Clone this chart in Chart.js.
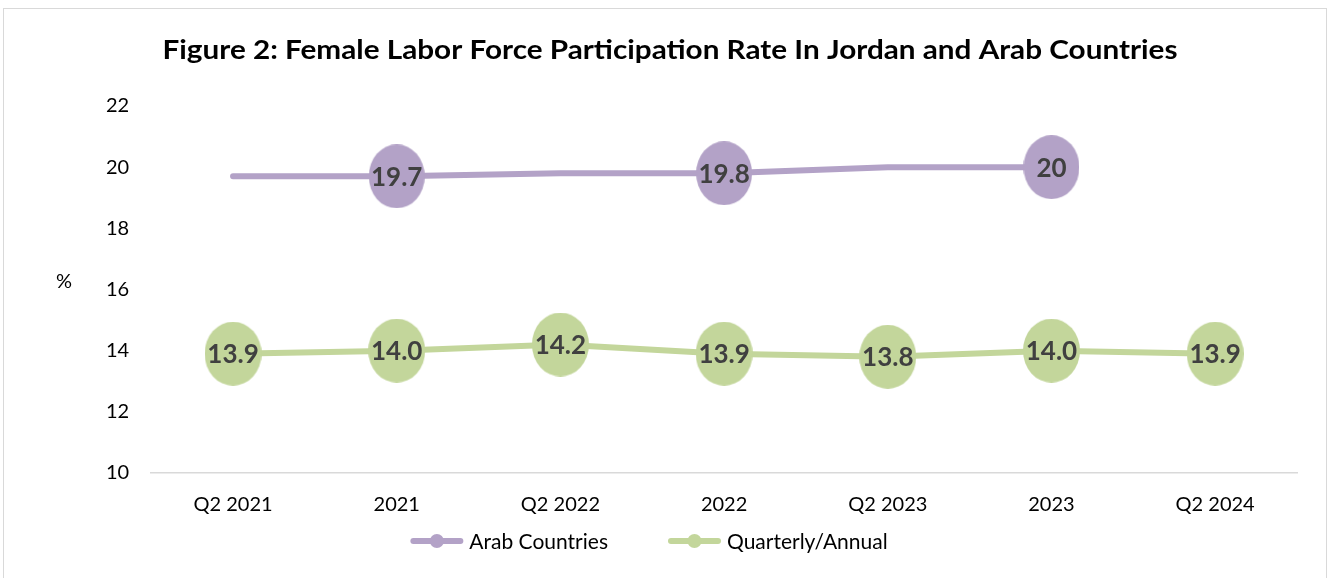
<!DOCTYPE html>
<html>
<head>
<meta charset="utf-8">
<script src="https://cdn.jsdelivr.net/npm/chart.js@4"></script>
<style>
  html, body { margin: 0; padding: 0; background: #fff; overflow: hidden; }
  #frame { position: absolute; left: 3px; top: 8px; width: 1322px; height: 640px; border: 1px solid #d9d9d9; }
  #wrap { position: absolute; left: 0; top: 0; width: 1334px; height: 578px; }
</style>
</head>
<body>
<div id="frame"></div>
<div id="wrap"><canvas id="chart" width="1334" height="578"></canvas></div>
<script>
const titleText = 'Figure 2: Female Labor Force Participation Rate In Jordan and Arab Countries';
const categories = ['Q2 2021', '2021', 'Q2 2022', '2022', 'Q2 2023', '2023', 'Q2 2024'];
const arabValues = [19.7, 19.7, 19.8, 19.8, 20, 20, null];
const arabMarked = [false, true, false, true, false, true, false];
const jordanValues = [13.9, 14.0, 14.2, 13.9, 13.8, 14.0, 13.9];
const yTicks = [10, 12, 14, 16, 18, 20, 22];

const PURPLE = '#b3a2c7';
const GREEN = '#c3d69b';

function ellipse(color, w, h) {
    const c = document.createElement('canvas');
    c.width = w; c.height = h;
    const g = c.getContext('2d');
    g.fillStyle = color;
    g.beginPath();
    g.ellipse(w / 2, h / 2, w / 2, h / 2, 0, 0, Math.PI * 2);
    g.fill();
    return c;
}

// value labels in the middle of the bubbles
const valueLabels = {
    id: 'valueLabels',
    afterDatasetsDraw(chart) {
        const ctx = chart.ctx;
        ctx.save();
        ctx.font = 'bold 26px Lato';
        ctx.fillStyle = '#404040';
        ctx.textAlign = 'center';
        ctx.textBaseline = 'middle';
        chart.data.datasets.forEach((ds, i) => {
            chart.getDatasetMeta(i).data.forEach((pt, j) => {
                const v = ds.data[j];
                if (v == null || !pt.options || pt.options.radius <= 0) return;
                ctx.fillText(ds.fmt(v), pt.x, pt.y + 1);
            });
        });
        ctx.restore();
    }
};

// title, % label and legend
const decorations = {
    id: 'decorations',
    afterDraw(chart) {
        const ctx = chart.ctx;
        ctx.save();
        ctx.fillStyle = '#000';
        ctx.textBaseline = 'middle';
        ctx.textAlign = 'center';
        ctx.font = 'bold 27px Lato';
        const tw = ctx.measureText(titleText).width;
        ctx.save();
        ctx.translate(670, 50);
        ctx.scale(1015 / tw, 1);
        ctx.fillText(titleText, 0, 0);
        ctx.restore();

        ctx.font = '20px Lato';
        ctx.fillText('%', 64, 282);

        ctx.font = '21px Lato';
        ctx.textAlign = 'left';
        const lineW = 53, gapText = 6, gapItem = 60, y = 541;
        const items = chart.data.datasets.map(ds => ({ text: ds.label, color: ds.borderColor }));
        let total = 0;
        items.forEach((it, i) => {
            it.w = lineW + gapText + ctx.measureText(it.text).width;
            total += it.w + (i ? gapItem : 0);
        });
        let x = 649 - total / 2;
        items.forEach(it => {
            ctx.strokeStyle = it.color;
            ctx.lineWidth = 6;
            ctx.lineCap = 'round';
            ctx.beginPath();
            ctx.moveTo(x + 3, y);
            ctx.lineTo(x + lineW - 3, y);
            ctx.stroke();
            ctx.fillStyle = it.color;
            ctx.beginPath();
            ctx.arc(x + lineW / 2, y, 7, 0, Math.PI * 2);
            ctx.fill();
            ctx.fillStyle = '#000';
            ctx.fillText(it.text, x + lineW + gapText, y + 1);
            x += it.w + gapItem;
        });
        ctx.restore();
    }
};

const ctx = document.getElementById('chart').getContext('2d');
new Chart(ctx, {
    type: 'line',
    data: {
        labels: categories,
        datasets: [{
            label: 'Arab Countries',
            data: arabValues,
            fmt: v => String(v),
            borderColor: PURPLE,
            backgroundColor: PURPLE,
            borderWidth: 6,
            borderCapStyle: 'round',
            pointStyle: ellipse(PURPLE, 56, 64),
            pointRadius: arabMarked.map(m => m ? 28 : 0),
            pointHoverRadius: arabMarked.map(m => m ? 28 : 0),
            tension: 0
        }, {
            label: 'Quarterly/Annual',
            data: jordanValues,
            fmt: v => v.toFixed(1),
            borderColor: GREEN,
            backgroundColor: GREEN,
            borderWidth: 6,
            borderCapStyle: 'round',
            pointStyle: ellipse(GREEN, 57, 64),
            pointRadius: 28,
            pointHoverRadius: 28,
            tension: 0
        }]
    },
    options: {
        responsive: false,
        animation: false,
        events: [],
        layout: { padding: { left: 84, right: 37, top: 106, bottom: 41 } },
        scales: {
            x: {
                offset: true,
                grid: { display: false, drawTicks: false },
                border: { display: true, color: '#d9d9d9', width: 1.5 },
                ticks: { padding: 20, color: '#000', font: { family: 'Lato', size: 20 }, maxRotation: 0 }
            },
            y: {
                min: 10,
                max: 22,
                afterBuildTicks: s => { s.ticks = yTicks.map(v => ({ value: v })); },
                grid: { display: false, drawTicks: false },
                border: { display: false },
                ticks: { padding: 22, color: '#000', font: { family: 'Lato', size: 20 } }
            }
        },
        plugins: {
            legend: { display: false },
            title: { display: false },
            tooltip: { enabled: false }
        }
    },
    plugins: [valueLabels, decorations]
});
</script>
</body>
</html>
